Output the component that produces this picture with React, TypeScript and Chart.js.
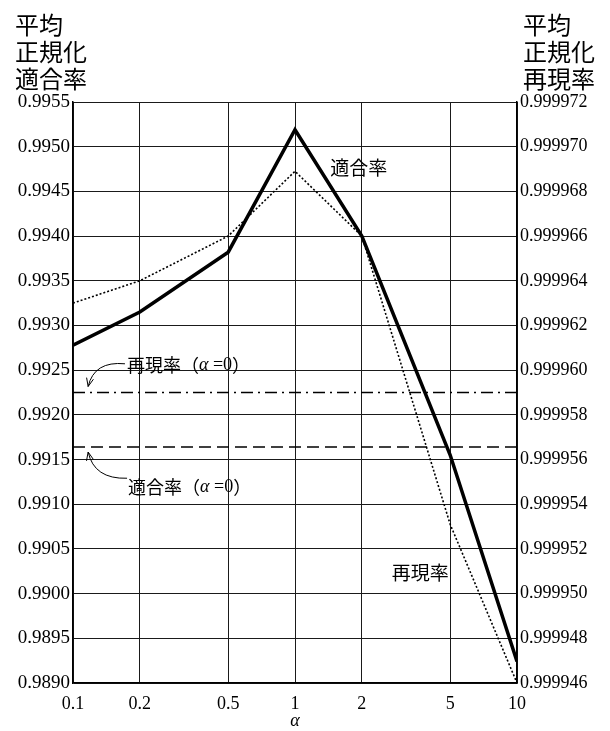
import React, { useEffect, useRef } from 'react';
import { Chart, registerables } from 'chart.js';

Chart.register(...registerables);

// ---- data ----
const alphas = [0.1, 0.2, 0.5, 1, 2, 5, 10];
const precision = [0.99278, 0.99315, 0.99382, 0.99519, 0.994, 0.99155, 0.98924];
const recall = [0.999963, 0.999964, 0.999966, 0.9999689, 0.999966, 0.9999531, 0.999946];
const precisionAlpha0 = 0.99164;
const recallAlpha0 = 0.999959;

const xTicks = [0.1, 0.2, 0.5, 1, 2, 5, 10];
const leftTicks = [0.989, 0.9895, 0.99, 0.9905, 0.991, 0.9915, 0.992, 0.9925, 0.993, 0.9935, 0.994, 0.9945, 0.995, 0.9955];
const rightTicks = [0.999946, 0.999948, 0.99995, 0.999952, 0.999954, 0.999956, 0.999958, 0.99996, 0.999962, 0.999964, 0.999966, 0.999968, 0.99997, 0.999972];

const leftTitle = ['平均', '正規化', '適合率'];
const rightTitle = ['平均', '正規化', '再現率'];
const labelPrecision = '適合率';
const labelRecall = '再現率';
const labelRecall0 = ['再現率（', 'α', ' =0）'];
const labelPrecision0 = ['適合率（', 'α', ' =0）'];

const SERIF = '"Liberation Serif", "DejaVu Serif", serif';
const CJK = '"Noto Sans CJK JP", sans-serif';

function drawMixed(ctx: CanvasRenderingContext2D, parts: string[], x: number, y: number) {
  let cx = x;
  parts.forEach((p, i) => {
    ctx.font = i === 1 ? `italic 18px ${SERIF}` : i === 2 ? `18px ${SERIF}` : `18px ${CJK}`;
    if (i === 2) {
      const eq = p.slice(0, p.length - 1);
      ctx.fillText(eq, cx, y);
      cx += ctx.measureText(eq).width;
      ctx.font = `18px ${CJK}`;
      ctx.fillText('）', cx, y);
      cx += ctx.measureText('）').width;
    } else {
      ctx.fillText(p, cx, y);
      cx += ctx.measureText(p).width;
    }
  });
}

function arrow(ctx: CanvasRenderingContext2D, sx: number, sy: number, cx: number, cy: number, ex: number, ey: number) {
  ctx.beginPath();
  ctx.moveTo(sx, sy);
  ctx.quadraticCurveTo(cx, cy, ex, ey);
  ctx.stroke();
  const ang = Math.atan2(ey - cy, ex - cx);
  const L = 9;
  ctx.beginPath();
  ctx.moveTo(ex, ey);
  ctx.lineTo(ex - L * Math.cos(ang - 0.4), ey - L * Math.sin(ang - 0.4));
  ctx.moveTo(ex, ey);
  ctx.lineTo(ex - L * Math.cos(ang + 0.4), ey - L * Math.sin(ang + 0.4));
  ctx.stroke();
}

const annotationPlugin = {
  id: 'annotations',
  afterDraw(chart: any) {
    const ctx: CanvasRenderingContext2D = chart.ctx;
    const x = chart.scales.x;
    const yL = chart.scales.yL;
    const yR = chart.scales.yR;
    ctx.save();
    ctx.fillStyle = '#000';
    ctx.strokeStyle = '#000';
    ctx.textBaseline = 'middle';
    ctx.textAlign = 'left';
    // axis titles
    ctx.font = `24px ${CJK}`;
    leftTitle.forEach((t, i) => ctx.fillText(t, 15, 25 + i * 27));
    rightTitle.forEach((t, i) => ctx.fillText(t, 523, 25 + i * 27));
    // alpha axis label
    ctx.textAlign = 'center';
    ctx.font = `italic 18px ${SERIF}`;
    ctx.fillText('α', x.getPixelForValue(1), 721);
    ctx.textAlign = 'left';

    // series labels
    ctx.font = `19px ${CJK}`;
    ctx.fillText(labelPrecision, x.getPixelForValue(1.44), yL.getPixelForValue(0.99476));
    ctx.fillText(labelRecall, x.getPixelForValue(2.73), yL.getPixelForValue(0.99023));

    // alpha=0 labels
    const r0x = x.getPixelForValue(0.175);
    const r0y = yL.getPixelForValue(0.99256);
    drawMixed(ctx, labelRecall0, r0x, r0y);
    const p0x = x.getPixelForValue(0.177);
    const p0y = yL.getPixelForValue(0.99119);
    drawMixed(ctx, labelPrecision0, p0x, p0y);

    ctx.lineWidth = 1;
    const ry = yR.getPixelForValue(recallAlpha0);
    const ax = x.getPixelForValue(0.117);
    arrow(ctx, r0x - 2, r0y - 1, ax + 6, r0y - 4, ax, ry - 6);
    const py = yL.getPixelForValue(precisionAlpha0);
    arrow(ctx, p0x - 1, p0y - 9, ax + 6, p0y - 8, ax, py + 5);
    ctx.restore();
  },
};

export default function App() {
  const ref = useRef<HTMLCanvasElement>(null);
  useEffect(() => {
    if (!ref.current) return;
    const gridColor = '#1a1a1a';
    const chart = new Chart(ref.current, {
      type: 'line',
      data: {
        datasets: [
          {
            label: '適合率',
            data: alphas.map((a, i) => ({ x: a, y: precision[i] })),
            yAxisID: 'yL',
            borderColor: '#000',
            borderWidth: 3.5,
            pointRadius: 0,
            tension: 0,
          },
          {
            label: '再現率',
            data: alphas.map((a, i) => ({ x: a, y: recall[i] })),
            yAxisID: 'yR',
            borderColor: '#000',
            borderWidth: 1.6,
            borderDash: [2, 2],
            pointRadius: 0,
            tension: 0,
          },
          {
            label: '再現率 (α=0)',
            data: [xTicks[0], xTicks[xTicks.length - 1]].map((a) => ({ x: a, y: recallAlpha0 })),
            yAxisID: 'yR',
            borderColor: '#000',
            borderWidth: 1.3,
            borderDash: [12, 5, 2, 5],
            pointRadius: 0,
          },
          {
            label: '適合率 (α=0)',
            data: [xTicks[0], xTicks[xTicks.length - 1]].map((a) => ({ x: a, y: precisionAlpha0 })),
            yAxisID: 'yL',
            borderColor: '#000',
            borderWidth: 1.3,
            borderDash: [12, 6],
            pointRadius: 0,
          },
        ],
      },
      options: {
        responsive: false,
        animation: false,
        events: [],
        layout: { padding: { top: 102, left: 0, right: 0, bottom: 0 } },
        plugins: { legend: { display: false }, tooltip: { enabled: false } },
        scales: {
          x: {
            type: 'logarithmic',
            min: 0.1,
            max: 10,
            afterBuildTicks: (s: any) => {
              s.ticks = xTicks.map((v) => ({ value: v }));
            },
            afterFit: (s: any) => {
              s.height = 48;
            },
            ticks: {
              callback: (v: any) => String(v),
              color: '#000',
              font: { family: SERIF, size: 18 },
              padding: 10,
              maxRotation: 0,
              autoSkip: false,
            },
            grid: { color: gridColor, lineWidth: 1, drawTicks: false },
            border: { color: '#000', width: 1.5 },
          },
          yL: {
            type: 'linear',
            position: 'left',
            min: 0.989,
            max: 0.9955,
            afterBuildTicks: (s: any) => {
              s.ticks = leftTicks.map((v) => ({ value: v }));
            },
            afterFit: (s: any) => {
              s.width = 73;
            },
            ticks: {
              callback: (v: any) => Number(v).toFixed(4),
              color: '#000',
              font: { family: SERIF, size: 19 },
              padding: 3,
            },
            grid: { color: gridColor, lineWidth: 1, drawTicks: false },
            border: { color: '#000', width: 1.5 },
          },
          yR: {
            type: 'linear',
            position: 'right',
            min: 0.999946,
            max: 0.999972,
            afterBuildTicks: (s: any) => {
              s.ticks = rightTicks.map((v) => ({ value: v }));
            },
            afterFit: (s: any) => {
              s.width = 93;
            },
            ticks: {
              callback: (v: any) => Number(v).toFixed(6),
              color: '#000',
              font: { family: SERIF, size: 18 },
              padding: 3,
            },
            grid: { display: false, drawTicks: false },
            border: { color: '#000', width: 1.5 },
          },
        },
      },
      plugins: [annotationPlugin],
    } as any);
    return () => chart.destroy();
  }, []);
  return (
    <div style={{ position: 'absolute', left: 0, top: 0, width: 610, height: 731, background: '#fff' }}>
      <canvas ref={ref} width={610} height={731} />
    </div>
  );
}
